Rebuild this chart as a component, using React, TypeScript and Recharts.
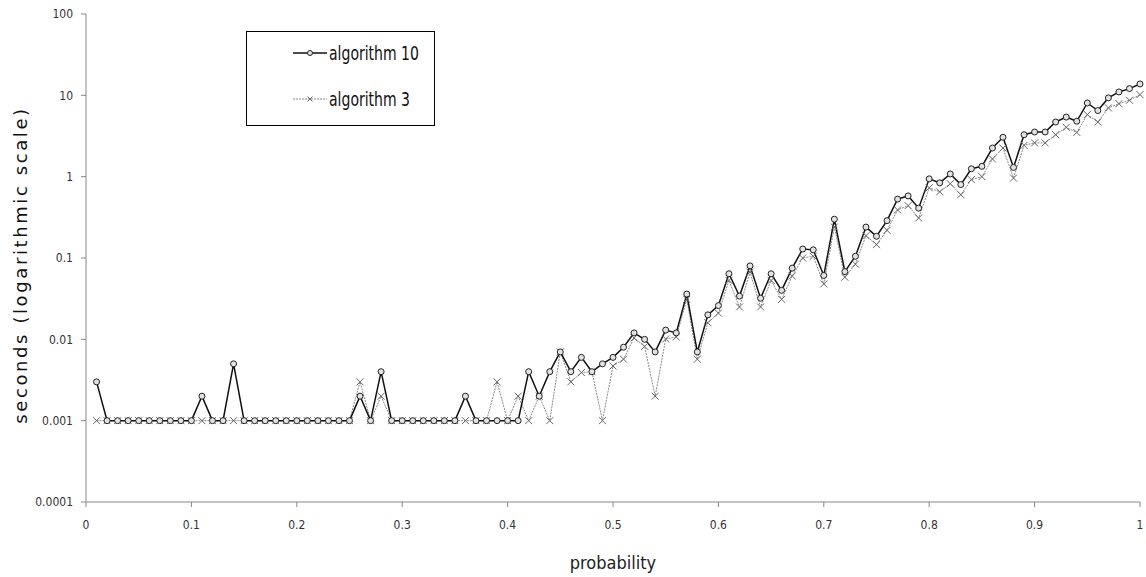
import React from "react";
import {
  LineChart,
  Line,
  XAxis,
  YAxis,
  Legend,
  Label,
} from "recharts";

const probability = [
  0.01, 0.02, 0.03, 0.04, 0.05, 0.06, 0.07, 0.08, 0.09, 0.1,
  0.11, 0.12, 0.13, 0.14, 0.15, 0.16, 0.17, 0.18, 0.19, 0.2,
  0.21, 0.22, 0.23, 0.24, 0.25, 0.26, 0.27, 0.28, 0.29, 0.3,
  0.31, 0.32, 0.33, 0.34, 0.35, 0.36, 0.37, 0.38, 0.39, 0.4,
  0.41, 0.42, 0.43, 0.44, 0.45, 0.46, 0.47, 0.48, 0.49, 0.5,
  0.51, 0.52, 0.53, 0.54, 0.55, 0.56, 0.57, 0.58, 0.59, 0.6,
  0.61, 0.62, 0.63, 0.64, 0.65, 0.66, 0.67, 0.68, 0.69, 0.7,
  0.71, 0.72, 0.73, 0.74, 0.75, 0.76, 0.77, 0.78, 0.79, 0.8,
  0.81, 0.82, 0.83, 0.84, 0.85, 0.86, 0.87, 0.88, 0.89, 0.9,
  0.91, 0.92, 0.93, 0.94, 0.95, 0.96, 0.97, 0.98, 0.99, 1.0,
];

const algorithm10 = [
  0.003, 0.001, 0.001, 0.001, 0.001, 0.001, 0.001, 0.001, 0.001, 0.001,
  0.002, 0.001, 0.001, 0.005, 0.001, 0.001, 0.001, 0.001, 0.001, 0.001,
  0.001, 0.001, 0.001, 0.001, 0.001, 0.002, 0.001, 0.004, 0.001, 0.001,
  0.001, 0.001, 0.001, 0.001, 0.001, 0.002, 0.001, 0.001, 0.001, 0.001,
  0.001, 0.004, 0.002, 0.004, 0.007, 0.004, 0.006, 0.004, 0.005, 0.006,
  0.008, 0.012, 0.01, 0.007, 0.013, 0.012, 0.036, 0.007, 0.02, 0.026,
  0.064, 0.034, 0.08, 0.032, 0.064, 0.04, 0.075, 0.129, 0.126, 0.061,
  0.3, 0.068, 0.105, 0.24, 0.185, 0.288, 0.53, 0.58, 0.41, 0.94,
  0.84, 1.08, 0.8, 1.25, 1.34, 2.25, 3.05, 1.3, 3.28, 3.54,
  3.54, 4.7, 5.4, 4.8, 8.05, 6.5, 9.3, 11.0, 12.1, 13.8,
];

const algorithm3 = [
  0.001, 0.001, 0.001, 0.001, 0.001, 0.001, 0.001, 0.001, 0.001, 0.001,
  0.001, 0.001, 0.001, 0.001, 0.001, 0.001, 0.001, 0.001, 0.001, 0.001,
  0.001, 0.001, 0.001, 0.001, 0.001, 0.003, 0.001, 0.002, 0.001, 0.001,
  0.001, 0.001, 0.001, 0.001, 0.001, 0.001, 0.001, 0.001, 0.003, 0.001,
  0.002, 0.001, 0.002, 0.001, 0.007, 0.003, 0.0039, 0.004, 0.001, 0.0047,
  0.0057, 0.0104, 0.0082, 0.002, 0.0101, 0.0107, 0.031, 0.0057, 0.016, 0.021,
  0.053, 0.025, 0.067, 0.025, 0.053, 0.031, 0.06, 0.1, 0.105, 0.048,
  0.24, 0.058, 0.084, 0.188, 0.146, 0.219, 0.39, 0.44, 0.31, 0.73,
  0.65, 0.82, 0.6, 0.92, 1.0, 1.65, 2.25, 0.96, 2.43, 2.6,
  2.6, 3.28, 4.04, 3.5, 5.8, 4.7, 7.0, 7.9, 8.7, 10.2,
];

const xTicks = [0, 0.1, 0.2, 0.3, 0.4, 0.5, 0.6, 0.7, 0.8, 0.9, 1];
const yTicks = [0.0001, 0.001, 0.01, 0.1, 1, 10, 100];

const data = probability.map((p, i) => ({
  p,
  alg10: algorithm10[i],
  alg3: algorithm3[i],
}));

const narrow = "'Liberation Sans Narrow', 'DejaVu Sans Condensed', sans-serif";

const CircleDot = (props: any) => {
  const { cx, cy, key } = props;
  if (cx == null || cy == null) return null;
  return (
    <circle key={key} cx={cx} cy={cy} r={3} fill="#e2e2e2" stroke="#222" strokeWidth={1} />
  );
};

const CrossDot = (props: any) => {
  const { cx, cy, key } = props;
  if (cx == null || cy == null) return null;
  const s = 3.5;
  return (
    <g key={key} stroke="#666" strokeWidth={1}>
      <line x1={cx - s} y1={cy - s} x2={cx + s} y2={cy + s} />
      <line x1={cx - s} y1={cy + s} x2={cx + s} y2={cy - s} />
    </g>
  );
};

// rotated y title, centred a bit below the plot middle like the original
const YTitle = (props: any) => {
  const vb = props.viewBox || {};
  const cx = 20;
  const cy = (vb.y ?? 14) + (vb.height ?? 488) / 2 + 7;
  return (
    <text
      x={cx}
      y={cy}
      transform={`rotate(-90 ${cx} ${cy})`}
      textAnchor="middle"
      dominantBaseline="central"
      fill="#111"
      fontSize={18}
      fontFamily="'DejaVu Sans', sans-serif"
      letterSpacing={2.6}
    >
      seconds (logarithmic scale)
    </text>
  );
};

const legendText: React.CSSProperties = {
  marginLeft: 2,
  display: "inline-block",
  transform: "scaleX(0.82)",
  transformOrigin: "left center",
};

const LegendBox = () => (
  <div
    style={{
      boxSizing: "border-box",
      width: 189,
      height: 95,
      border: "1px solid #000",
      background: "#fff",
      fontFamily: narrow,
      fontSize: 19,
      color: "#111",
      position: "relative",
      whiteSpace: "nowrap",
    }}
  >
    <div style={{ position: "absolute", left: 46, top: 10, display: "flex", alignItems: "center" }}>
      <svg width={34} height={10}>
        <line x1={0} y1={5} x2={34} y2={5} stroke="#111" strokeWidth={1.5} />
        <circle cx={17} cy={5} r={2.5} fill="#e2e2e2" stroke="#222" />
      </svg>
      <span style={legendText}>algorithm 10</span>
    </div>
    <div style={{ position: "absolute", left: 46, top: 56, display: "flex", alignItems: "center" }}>
      <svg width={34} height={10}>
        <line x1={0} y1={5} x2={34} y2={5} stroke="#888" strokeWidth={1} strokeDasharray="2 1" />
        <g stroke="#666">
          <line x1={14.5} y1={2.5} x2={19.5} y2={7.5} />
          <line x1={14.5} y1={7.5} x2={19.5} y2={2.5} />
        </g>
      </svg>
      <span style={legendText}>algorithm 3</span>
    </div>
  </div>
);

export default function App() {
  return (
    <div style={{ position: "absolute", left: 0, top: 0, background: "#fff" }}>
      <LineChart
        width={1146}
        height={577}
        data={data}
        margin={{ top: 14, right: 6, left: 0, bottom: 0 }}
      >
        <XAxis
          dataKey="p"
          type="number"
          domain={[0, 1]}
          ticks={xTicks}
          height={75}
          stroke="#888"
          tickSize={5}
          tickMargin={13}
          tick={{ fill: "#333", fontSize: 12, fontFamily: narrow }}
        >
          <Label
            value="probability"
            position="insideBottom"
            offset={8}
            style={{ fill: "#222", fontSize: 18, fontFamily: narrow }}
          />
        </XAxis>
        <YAxis
          type="number"
          scale="log"
          domain={[0.0001, 100]}
          ticks={yTicks}
          allowDataOverflow
          width={86}
          stroke="#888"
          tickSize={5}
          tickMargin={8}
          tickFormatter={(v: number) => String(v)}
          tick={{ fill: "#333", fontSize: 12, fontFamily: narrow }}
        >
          <Label content={YTitle} />
        </YAxis>
        <Legend
          verticalAlign="middle"
          align="center"
          layout="horizontal"
          content={() => <LegendBox />}
          wrapperStyle={{ left: 246, top: 31, width: 189, height: 95 }}
        />
        <Line
          type="linear"
          dataKey="alg3"
          stroke="#888"
          strokeWidth={1}
          strokeDasharray="2 1"
          dot={CrossDot}
          activeDot={false}
          isAnimationActive={false}
        />
        <Line
          type="linear"
          dataKey="alg10"
          stroke="#111"
          strokeWidth={1.5}
          dot={CircleDot}
          activeDot={false}
          isAnimationActive={false}
        />
      </LineChart>
    </div>
  );
}
